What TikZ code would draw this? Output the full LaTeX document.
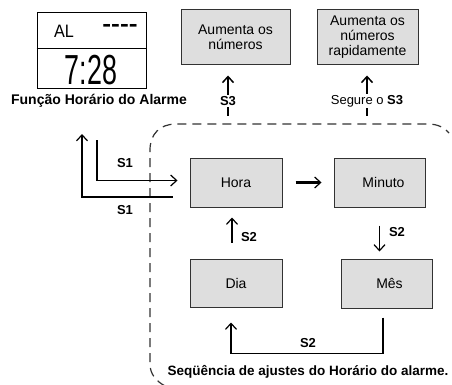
\documentclass[tikz,border=0pt]{standalone}
\usepackage{fontspec}
\setmainfont{Liberation Sans}
\usetikzlibrary{arrows.meta}
\definecolor{boxfill}{RGB}{222,222,222}
\definecolor{boxline}{RGB}{50,50,50}
\begin{document}
\begin{tikzpicture}[x=1pt,y=-1pt,
  gbox/.style={draw=boxline, fill=boxfill, line width=1pt, inner sep=0pt, align=center,
    font=\fontsize{14}{15}\selectfont},
  lbl/.style={font=\bfseries\fontsize{13}{14}\selectfont, inner sep=1pt},
  conn/.style={line width=1.4pt, -{Straight Barb[length=6pt,width=11pt,line width=1.2pt]}},
  thick3/.style={line width=2pt, -{Straight Barb[length=6pt,width=11pt,line width=1.5pt]}},
  dashline/.style={line width=1.2pt, dash pattern=on 9pt off 6pt, draw=black!80}
]
\useasboundingbox[fill=white] (0,0) rectangle (452,385);

% LCD
\node[draw=black, line width=1pt, minimum width=109pt, minimum height=76pt, inner sep=0pt] (lcd) at (91.5,51) {};
\draw[line width=0.8pt] (lcd.west |- 0,48) coordinate (dl) -- (lcd.east |- 0,48) coordinate (dr);
\node[font=\fontsize{18}{18}\selectfont, xscale=0.9, inner sep=0pt] (al) at (64,31.5) {AL};
\node[font=\bfseries\fontsize{22}{22}\selectfont, xscale=1.2, inner sep=0pt] (dash) at (120,28) {{-}{-}{-}{-}};
\node[font=\fontsize{42}{42}\selectfont, xscale=0.64, inner sep=0pt] (time) at (91,70) {7:28};
\node[font=\bfseries\fontsize{14}{15}\selectfont, inner sep=0pt] (title) at (99,101) {Função Horário do Alarme};

% top boxes
\node[gbox, minimum width=109pt, minimum height=55pt] (top1) at (235.5,37.5) {Aumenta os\\números};
\node[gbox, minimum width=101pt, minimum height=55pt] (top2) at (367.5,37.5) {Aumenta os\\números\\rapidamente};

\coordinate (s3a) at (228,116);
\coordinate (s3b) at (367,116);
\draw[thick3, shorten >=10pt] (s3a) -- (top1.south -| s3a);
\draw[thick3, shorten >=10pt] (s3b) -- (top2.south -| s3b);
\node[lbl, fill=white] (l3a) at (228,101) {S3};
\node[font=\fontsize{13}{14}\selectfont, fill=white, inner sep=1pt] (l3b) at (367,101) {Segure o \textbf{S3}};

% dashed region
\draw[dashline] (165,386) .. controls (156,381) and (150,374) .. (150,364)
  -- (150,150) .. controls (150,134) and (160,124) .. (176,124)
  -- (428,124) .. controls (438,124) and (445,128) .. (449,133);

% sequence boxes
\node[gbox, minimum width=92pt, minimum height=49pt] (hora) at (236,182.5) {Hora};
\node[gbox, minimum width=91pt, minimum height=49pt] (minuto) at (379.5,182.5) {\hspace{8pt}Minuto};
\node[gbox, minimum width=92pt, minimum height=48pt] (dia) at (236,283) {Dia};
\node[gbox, minimum width=91pt, minimum height=49pt] (mes) at (386.5,283.5) {\hspace{6pt}Mês};

% S1 connectors
\coordinate (c1) at (97,140);
\coordinate (c2) at (82,134);
\draw[conn, shorten >=12pt] (c1) |- ([yshift=2pt]hora.west);
\draw[conn] ([xshift=-17pt,yshift=-14.5pt]hora.west) -| (c2);
\node[lbl] (s1a) at (125,163) {S1};
\node[lbl] (s1b) at (125,210) {S1};

% sequence arrows
\draw[conn, line width=2.6pt, shorten <=13pt, shorten >=12pt] (hora.east) -- (minuto.west);
\draw[conn, shorten <=18pt, shorten >=7pt] (minuto.south) -- (minuto.south |- mes.north);
\node[lbl] (s2a) at (397,232) {S2};
\draw[conn, shorten <=16pt, shorten >=10pt] ([xshift=-4pt]dia.north) -- ([xshift=-4pt]hora.south);
\node[lbl] (s2b) at (249,237) {S2};
\draw[conn] ([xshift=-3.5pt,yshift=-9pt]mes.south) -- ++(0,36) -| ([xshift=-5pt,yshift=-15pt]dia.south);
\node[lbl] (s2c) at (308,343) {S2};

\node[font=\bfseries\fontsize{13.5}{15}\selectfont, inner sep=0pt] (seq) at (308,372) {Seqüência de ajustes do Horário do alarme.};
\end{tikzpicture}
\end{document}
